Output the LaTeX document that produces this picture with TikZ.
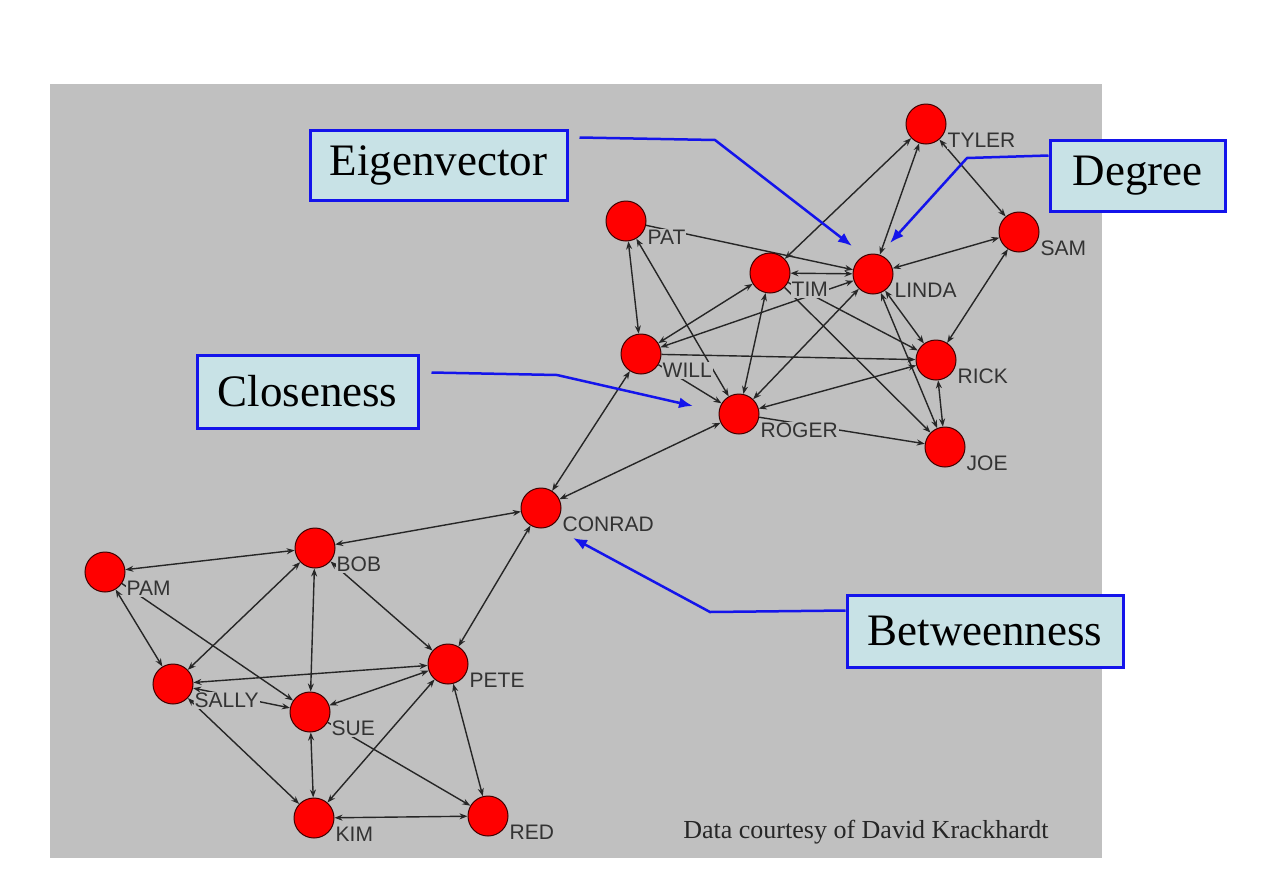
\documentclass[tikz,border=0pt]{standalone}
\usepackage{fontspec}
\setmainfont{Liberation Serif}
\setsansfont{Liberation Sans}
\usetikzlibrary{arrows.meta,backgrounds}
\definecolor{bgray}{RGB}{192,192,192}
\definecolor{boxfill}{RGB}{200,226,230}
\definecolor{cblue}{RGB}{20,20,235}
\tikzset{
  dot/.style={circle, fill=red, draw=red!25!black, line width=1pt, minimum size=40pt, inner sep=0pt},
  lbl/.style={font=\sffamily\fontsize{21}{21}\selectfont, text=black!80, fill=bgray, inner sep=1pt, anchor=west, xshift=6pt, yshift=-2pt},
  tie/.style={draw=black!85, line width=1.4pt},
  measure/.style={draw=cblue, line width=3pt, fill=boxfill, inner sep=0pt,
    font=\fontsize{45}{45}\selectfont},
  callout/.style={draw=cblue, line width=2.5pt, -{Latex[length=14pt,width=11pt]}}
}
\begin{document}
\begin{tikzpicture}[x=1pt, y=-1pt, >={Stealth[length=8pt,width=6pt]}]
\useasboundingbox (0,0) rectangle (1275,892);
% actors
\foreach \n / \x / \y / \t in {tyler/926/124/TYLER, pat/626/221/PAT, tim/770/273/TIM,
    linda/873/274/LINDA, sam/1019/232/SAM, will/641/354/WILL, rick/936/360/RICK,
    roger/739/414/ROGER, joe/945/447/JOE, conrad/541/508/CONRAD, bob/315/548/BOB,
    pam/105/572/PAM, pete/448/664/PETE, sally/173/684/SALLY, sue/310/712/SUE,
    kim/314/818/KIM, red/488/816/RED} {
  \node[dot, label={[lbl]-45:\t}] (\n) at (\x,\y) {};
}
% ties, behind the actors
\begin{pgfonlayer}{background}
  \fill[bgray] (50,84) rectangle (1102,858);
  \foreach \a / \b in {tyler/tim, tyler/linda, tyler/sam, pat/will, pat/roger, tim/linda,
      tim/will, will/linda, tim/roger, linda/roger, linda/sam, linda/rick, linda/joe,
      sam/rick, rick/roger, rick/joe, will/conrad, roger/conrad, conrad/bob, conrad/pete,
      pam/bob, pam/sally, bob/sally, bob/sue, bob/pete, sally/pete, sally/sue, sally/kim,
      sue/pete, sue/kim, pete/kim, pete/red, kim/red} {
    \draw[tie, <->] (\a) -- (\b);
  }
  \foreach \a / \b in {pat/linda, tim/joe, tim/rick, will/rick, will/roger, roger/joe,
      pam/sue, sue/red} {
    \draw[tie, ->] (\a) -- (\b);
  }
\end{pgfonlayer}
% centrality measures
\node[measure, minimum width=257pt, minimum height=70pt] (eig) at (438.5,165) {Eigenvector};
\node[measure, minimum width=175pt, minimum height=71pt] (deg) at (1137.5,175.5) {Degree};
\node[measure, minimum width=221pt, minimum height=73pt] (clo) at (307.5,391.5) {Closeness};
\node[measure, minimum width=276pt, minimum height=72pt] (btw) at (985,631) {Betweenness};
\coordinate (eigtip) at (852,246);
\coordinate (degtip) at (890,243);
\coordinate (clotip) at (693,406);
\coordinate (btwtip) at (573,538);
\draw[callout] ([xshift=11pt,yshift=-9pt]eig.north east) -- (715,140) -- (eigtip);
\draw[callout] ([yshift=-17pt]deg.north west) -- (967,158) -- (degtip);
\draw[callout] ([xshift=12pt,yshift=-19pt]clo.north east) -- (557,375) -- (clotip);
\draw[callout] ([yshift=-17pt]btw.north west) -- (710,612) -- (btwtip);
\node[font=\fontsize{26}{26}\selectfont, text=black!85] (src) at (866,832) {Data courtesy of David Krackhardt};
\end{tikzpicture}
\end{document}
